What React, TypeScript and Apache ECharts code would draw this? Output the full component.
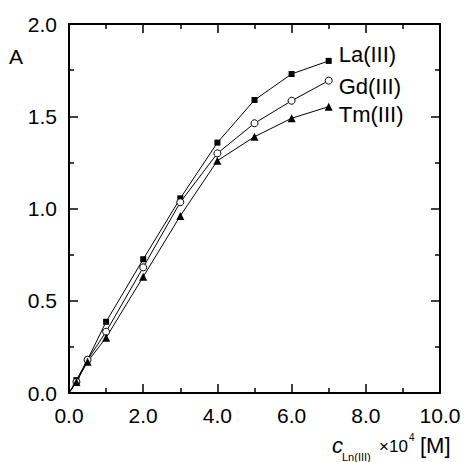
import React, { useEffect, useRef } from "react";
import * as echarts from "echarts";

const concentrations = [0, 0.2, 0.5, 1.0, 2.0, 3.0, 4.0, 5.0, 6.0, 7.0];
const laValues = [0, 0.07, 0.18, 0.386, 0.725, 1.055, 1.357, 1.588, 1.729, 1.80];
const gdValues = [0, 0.06, 0.18, 0.332, 0.681, 1.034, 1.299, 1.462, 1.584, 1.693];
const tmValues = [0, 0.06, 0.17, 0.30, 0.63, 0.96, 1.259, 1.389, 1.489, 1.552];
const seriesNames = ["La(III)", "Gd(III)", "Tm(III)"];
const xTickLabels = ["0.0", "2.0", "4.0", "6.0", "8.0", "10.0"];
const yTickLabels = ["0.0", "0.5", "1.0", "1.5", "2.0"];

const FONT = "Liberation Sans, Arial, Helvetica, sans-serif";

export default function App() {
  const ref = useRef<HTMLDivElement>(null);
  useEffect(() => {
    if (!ref.current) return;
    const chart = echarts.init(ref.current, null, { renderer: "svg" });
    const mk = (vals: number[]) => concentrations.map((x, i) => [x, vals[i]]);
    const symbols = ["rect", "circle", "triangle"];
    const sizes = [6, 7, 8];
    const labelDy = [-6, 6, 8];
    const allVals = [laValues, gdValues, tmValues];
    const axisCommon = {
      axisLine: { show: true, onZero: false, lineStyle: { color: "#000", width: 2 } },
      axisTick: { show: true, inside: true, length: 9, lineStyle: { color: "#000", width: 1.5 } },
      minorTick: { show: true, splitNumber: 2, length: 5, lineStyle: { color: "#000", width: 1.5 } },
      splitLine: { show: false },
    };
    const titleGraphics = [
      { type: "text", left: 9, top: 46, style: { text: "A", fontSize: 21, fontFamily: FONT, fill: "#000" } },
      { type: "text", left: 332, top: 434, style: { text: "c", fontSize: 22, fontStyle: "italic", fontFamily: FONT, fill: "#000" } },
      { type: "text", left: 342, top: 451, style: { text: "Ln(III)", fontSize: 11, fontFamily: FONT, fill: "#000" } },
      { type: "text", left: 379, top: 438, style: { text: "×10", fontSize: 17, fontFamily: FONT, fill: "#000" } },
      { type: "text", left: 409, top: 432, style: { text: "4", fontSize: 10, fontFamily: FONT, fill: "#000" } },
      { type: "text", left: 420, top: 434, style: { text: "[M]", fontSize: 22, fontFamily: FONT, fill: "#000" } },
    ];
    chart.setOption({
      animation: false,
      backgroundColor: "#fff",
      grid: { left: 69, top: 24, right: 24, bottom: 69 },
      xAxis: [
        {
          type: "value", min: 0, max: 10, interval: 2, position: "bottom",
          ...axisCommon,
          axisLabel: {
            color: "#000", fontSize: 21, fontFamily: FONT, margin: 12,
            formatter: (v: number) => xTickLabels[Math.round(v / 2)] ?? v.toFixed(1),
          },
        },
        {
          type: "value", min: 0, max: 10, interval: 2, position: "top",
          ...axisCommon, axisLabel: { show: false },
        },
      ],
      yAxis: [
        {
          type: "value", min: 0, max: 2, interval: 0.5, position: "left",
          ...axisCommon,
          axisLabel: {
            color: "#000", fontSize: 21, fontFamily: FONT, margin: 12,
            formatter: (v: number) => yTickLabels[Math.round(v / 0.5)] ?? v.toFixed(1),
          },
        },
        {
          type: "value", min: 0, max: 2, interval: 0.5, position: "right",
          ...axisCommon, axisLabel: { show: false },
        },
      ],
      series: seriesNames.map((name, si) => ({
        name,
        type: "line",
        xAxisIndex: 0,
        yAxisIndex: 0,
        symbol: symbols[si],
        symbolSize: sizes[si],
        showAllSymbol: true,
        z: 2,
        lineStyle: { color: "#000", width: 1 },
        itemStyle: { color: si === 1 ? "#fff" : "#000", borderColor: "#000", borderWidth: si === 1 ? 1 : 0 },
        data: mk(allVals[si]).map((p, i) => {
          const item: any = { value: p };
          if (i === 0) item.symbol = "none";
          return item;
        }),
      })),
      graphic: titleGraphics,
    });
    const endLabels = seriesNames.map((name, si) => {
      const vals = allVals[si];
      const last = vals.length - 1;
      const px = chart.convertToPixel({ xAxisIndex: 0, yAxisIndex: 0 }, [concentrations[last], vals[last]]) as number[];
      return {
        type: "text",
        x: px[0] + 10,
        y: px[1] + labelDy[si],
        style: { text: name, fontSize: 22, fontFamily: FONT, fill: "#000", verticalAlign: "middle", align: "left" },
      };
    });
    chart.setOption({ graphic: [...titleGraphics, ...endLabels] });
    return () => chart.dispose();
  }, []);
  return (
    <div
      ref={ref}
      style={{ position: "fixed", left: 0, top: 0, width: 464, height: 462, background: "#fff" }}
    />
  );
}
